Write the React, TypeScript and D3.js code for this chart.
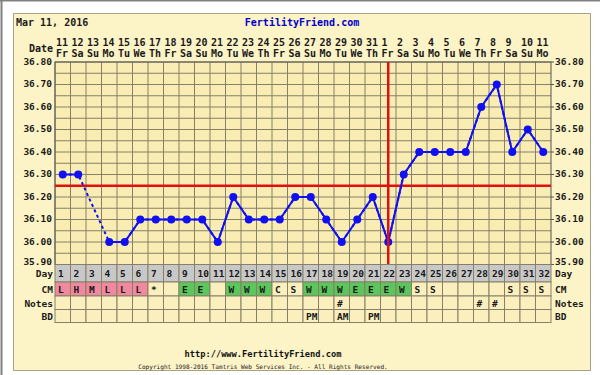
import * as d3 from "d3";

// Chart data
const dates = ["11", "12", "13", "14", "15", "16", "17", "18", "19", "20", "21", "22", "23", "24", "25", "26", "27", "28", "29", "30", "31", "1", "2", "3", "4", "5", "6", "7", "8", "9", "10", "11"];
const weekdays = ["Fr", "Sa", "Su", "Mo", "Tu", "We", "Th", "Fr", "Sa", "Su", "Mo", "Tu", "We", "Th", "Fr", "Sa", "Su", "Mo", "Tu", "We", "Th", "Fr", "Sa", "Su", "Mo", "Tu", "We", "Th", "Fr", "Sa", "Su", "Mo"];
const cycleDays = [1, 2, 3, 4, 5, 6, 7, 8, 9, 10, 11, 12, 13, 14, 15, 16, 17, 18, 19, 20, 21, 22, 23, 24, 25, 26, 27, 28, 29, 30, 31, 32];
const temps: (number | null)[] = [36.3, 36.3, null, 36.0, 36.0, 36.1, 36.1, 36.1, 36.1, 36.1, 36.0, 36.2, 36.1, 36.1, 36.1, 36.2, 36.2, 36.1, 36.0, 36.1, 36.2, 36.0, 36.3, 36.4, 36.4, 36.4, 36.4, 36.6, 36.7, 36.4, 36.5, 36.4];
const cm = ["L", "H", "M", "L", "L", "L", "*", "", "E", "E", "", "W", "W", "W", "C", "S", "W", "W", "W", "E", "E", "E", "W", "S", "S", "", "", "", "", "S", "S", "S"];
const notes = ["", "", "", "", "", "", "", "", "", "", "", "", "", "", "", "", "", "", "#", "", "", "", "", "", "", "", "", "#", "#", "", "", ""];
const bd = ["", "", "", "", "", "", "", "", "", "", "", "", "", "", "", "", "PM", "", "AM", "", "PM", "", "", "", "", "", "", "", "", "", "", ""];
const yTicks = [36.8, 36.7, 36.6, 36.5, 36.4, 36.3, 36.2, 36.1, 36.0, 35.9];
const coverline = 36.25;
const ovulationDay = 22;

const FONT = "'DejaVu Sans Mono', monospace";
const PLOT = { left: 55, right: 551, top: 62, bottom: 264.5 };
const ROWS = { day: [264.5, 282], cm: [282, 296], notes: [296, 309.5], bd: [309.5, 322.5] };
const GRID = "#858068";
const PINK = "#f0889e";
const GREEN = "#5cc65c";
const BLUE = "#1010f0";
const CELL = "#fbf0bd";

export default function App() {
  const x = d3.scaleBand<number>().domain(cycleDays).range([PLOT.left, PLOT.right]).paddingInner(0);
  const y = d3.scaleLinear().domain([35.9, 36.8]).range([PLOT.bottom, PLOT.top]);
  const bw = x.bandwidth();
  const cx = (d: number) => (x(d) ?? 0) + bw / 2;

  const pts = cycleDays.map((d, i) => ({ d, t: temps[i] }));
  const solid = d3.line<{ d: number; t: number | null }>()
    .defined((p) => p.t !== null)
    .x((p) => cx(p.d))
    .y((p) => y(p.t as number));
  const dashed = d3.line<{ d: number; t: number | null }>()
    .x((p) => cx(p.d))
    .y((p) => y(p.t as number));
  const known = pts.filter((p) => p.t !== null);

  const minor = d3.range(0, 19).map((k) => 35.9 + k * 0.05);

  const base = (row: number[]) => (row[0] + row[1]) / 2 + 4;

  const rowText = (vals: string[], row: number[], key: string) =>
    vals.map((v, i) =>
      v ? (
        <text key={key + i} x={(x(cycleDays[i]) ?? 0) + 3} y={base(row)}
          fontFamily={FONT} fontWeight="bold" fontSize={9.5} fill="#1a1a1a">{v}</text>
      ) : null
    );

  const rowCells = (row: number[], key: string, fill: (i: number) => string) =>
    cycleDays.map((d, i) => (
      <rect key={key + i} x={x(d)} y={row[0]} width={bw} height={row[1] - row[0]}
        fill={fill(i)} stroke={GRID} strokeWidth={1} />
    ));

  const cmFill = (i: number) => {
    const v = cm[i];
    if (v === "L" || v === "H" || v === "M") return PINK;
    if (v === "E" || v === "W") return GREEN;
    return CELL;
  };

  // bottom label sits a bit higher so it clears the Day row
  const labelY = (v: number) => y(v) + (v === 35.9 ? 0.5 : 2.5);

  return (
    <svg width={600} height={375} style={{ position: "absolute", left: 0, top: 0, background: "#fff" }}>
      <line x1={0} x2={600} y1={0.5} y2={0.5} stroke="#808080" strokeWidth={2} />
      <line x1={1.5} x2={1.5} y1={0} y2={375} stroke="#808080" strokeWidth={2} />
      <rect x={13.5} y={13.5} width={577} height={357} fill="#fcf3c6" stroke="#a8a28a" />

      <text x={16} y={26} fontFamily={FONT} fontWeight="bold" fontSize={10} fill="#1a1a1a">Mar 11, 2016</text>
      <text x={302} y={26} textAnchor="middle" fontFamily={FONT} fontWeight="bold" fontSize={10} fill="#0000cc">FertilityFriend.com</text>

      <text x={53} y={52} textAnchor="end" fontFamily={FONT} fontWeight="bold" fontSize={10} fill="#1a1a1a">Date</text>
      {cycleDays.map((d, i) => (
        <g key={"h" + d}>
          <text x={(x(d) ?? 0) + 1} y={46} fontFamily={FONT} fontWeight="bold" fontSize={10} fill="#1a1a1a">{dates[i]}</text>
          <text x={(x(d) ?? 0) + 1} y={57} fontFamily={FONT} fontWeight="bold" fontSize={10} fill="#1a1a1a">{weekdays[i]}</text>
        </g>
      ))}

      <rect x={PLOT.left} y={PLOT.top} width={PLOT.right - PLOT.left} height={PLOT.bottom - PLOT.top} fill="#f9edb4" />
      {minor.map((v) => (
        <line key={"hg" + v} x1={PLOT.left} x2={PLOT.right} y1={y(v)} y2={y(v)} stroke={GRID} strokeWidth={1} />
      ))}
      {cycleDays.map((d) => (
        <line key={"vg" + d} x1={x(d)} x2={x(d)} y1={PLOT.top} y2={PLOT.bottom} stroke={GRID} strokeWidth={1} />
      ))}
      <rect x={PLOT.left} y={PLOT.top} width={PLOT.right - PLOT.left} height={PLOT.bottom - PLOT.top} fill="none" stroke="#555" strokeWidth={1} />

      {yTicks.map((v) => (
        <g key={"yt" + v}>
          <text x={52} y={labelY(v)} textAnchor="end" fontFamily={FONT} fontWeight="bold" fontSize={9.5} fill="#1a1a1a">{v.toFixed(2)}</text>
          <text x={555} y={labelY(v)} fontFamily={FONT} fontWeight="bold" fontSize={9.5} fill="#1a1a1a">{v.toFixed(2)}</text>
          <line x1={PLOT.right} x2={PLOT.right + 3} y1={y(v)} y2={y(v)} stroke="#555" />
        </g>
      ))}

      <line x1={PLOT.left} x2={PLOT.right} y1={y(coverline)} y2={y(coverline)} stroke="#e01010" strokeWidth={2.5} />

      <path d={dashed(known) ?? ""} fill="none" stroke={BLUE} strokeWidth={2} strokeDasharray="3,3" />
      <path d={solid(pts) ?? ""} fill="none" stroke={BLUE} strokeWidth={2} />
      {known.map((p) => (
        <circle key={"pt" + p.d} cx={cx(p.d)} cy={y(p.t as number)} r={4} fill={BLUE} />
      ))}

      <line x1={cx(ovulationDay)} x2={cx(ovulationDay)} y1={PLOT.top} y2={PLOT.bottom} stroke="#e01010" strokeWidth={2.5} />

      {rowCells(ROWS.day, "dc", () => "#c8c8c8")}
      {rowText(cycleDays.map(String), ROWS.day, "dt")}
      {rowCells(ROWS.cm, "cc", cmFill)}
      {rowText(cm, ROWS.cm, "ct")}
      {rowCells(ROWS.notes, "nc", () => CELL)}
      {rowText(notes, ROWS.notes, "nt")}
      {rowCells(ROWS.bd, "bc", () => CELL)}
      {rowText(bd, ROWS.bd, "bt")}

      {([["Day", ROWS.day], ["CM", ROWS.cm], ["Notes", ROWS.notes], ["BD", ROWS.bd]] as [string, number[]][]).map(([lbl, row]) => (
        <g key={"rl" + lbl}>
          <text x={53} y={base(row)} textAnchor="end" fontFamily={FONT} fontWeight="bold" fontSize={9.5} fill="#1a1a1a">{lbl}</text>
          <text x={555} y={base(row)} fontFamily={FONT} fontWeight="bold" fontSize={9.5} fill="#1a1a1a">{lbl}</text>
        </g>
      ))}

      <text x={263} y={357} textAnchor="middle" fontFamily={FONT} fontWeight="bold" fontSize={8.7} fill="#111">http://www.FertilityFriend.com</text>
      <text x={263} y={368.5} textAnchor="middle" fontFamily={FONT} fontSize={6.1} fill="#222">Copyright 1998-2016 Tamtris Web Services Inc. - All Rights Reserved.</text>
    </svg>
  );
}
